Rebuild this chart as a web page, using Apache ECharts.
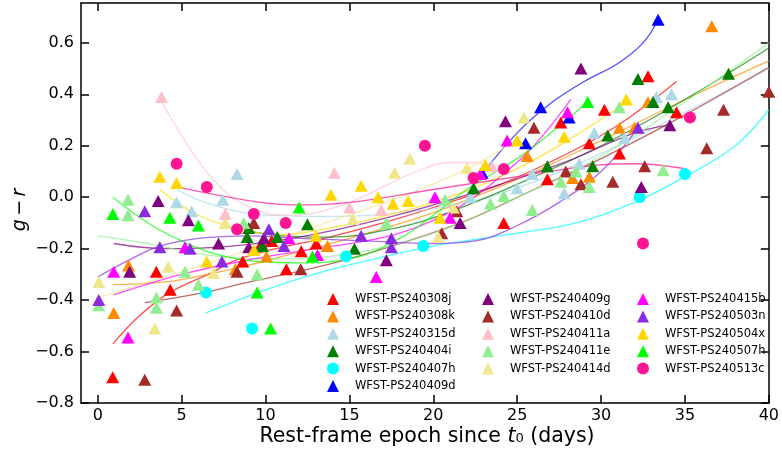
<!DOCTYPE html>
<html><head><meta charset="utf-8">
<script src="https://cdn.jsdelivr.net/npm/echarts@6/dist/echarts.min.js"></script>
<style>html,body{margin:0;padding:0;background:#fff}#c{width:782px;height:456px}</style>
</head><body><div id="c"></div>
<script>
// ---------- data ----------
const xTicks = [0, 5, 10, 15, 20, 25, 30, 35, 40];
const yTicks = [-0.8, -0.6, -0.4, -0.2, 0.0, 0.2, 0.4, 0.6];

const names = ['WFST-PS240308j','WFST-PS240308k','WFST-PS240315d','WFST-PS240404i','WFST-PS240407h','WFST-PS240409d',
  'WFST-PS240409g','WFST-PS240410d','WFST-PS240411a','WFST-PS240411e','WFST-PS240414d',
  'WFST-PS240415b','WFST-PS240503n','WFST-PS240504x','WFST-PS240507h','WFST-PS240513c'];

const pts_240308j = [[0.89,-0.70],[3.49,-0.29],[4.32,-0.36],[8.64,-0.25],[9.76,-0.18],[10.36,-0.17],[11.24,-0.28],[12.13,-0.21],[13.02,-0.18],[24.2,-0.10],[26.8,0.07],[27.6,0.29],[29.3,0.21],[30.2,0.34],[31.1,0.17],[32.8,0.47],[34.5,0.33]];
const fit_240308j = [[0.9,-0.57],[2.5,-0.46],[4.3,-0.37],[6.9,-0.29],[8,-0.25],[10,-0.21],[13.8,-0.155],[17,-0.10],[20,-0.04],[24,0.05],[28,0.17],[31,0.28],[34.5,0.45]];

const pts_240308k = [[0.95,-0.45],[1.83,-0.265],[8.2,-0.28],[10.06,-0.23],[13.7,-0.19],[25.6,0.16],[28.3,0.075],[29.3,0.08],[31.1,0.27],[32.0,0.27],[32.8,0.37],[36.6,0.665]];
const fit_240308k = [[0.9,-0.34],[3,-0.335],[5,-0.32],[8,-0.28],[11,-0.23],[15,-0.16],[20,-0.06],[25,0.07],[30,0.22],[35,0.38],[40,0.53]];

const pts_240315d = [[4.7,-0.02],[5.6,-0.055],[7.45,-0.01],[8.3,0.09],[22.2,0.0],[25.0,0.035],[25.9,0.09],[27.8,0.015],[28.7,0.13],[29.6,0.25],[31.4,0.23],[33.3,0.39],[34.2,0.40]];
const fit_240315d = [[4.7,0.03],[6,-0.01],[8,-0.05],[10,-0.07],[14,-0.075],[18,-0.06],[22,-0.02],[26,0.06],[30,0.17],[35,0.33],[40,0.50]];

const pts_240404i = [[9.0,-0.12],[8.9,-0.155],[9.8,-0.19],[10.7,-0.155],[12.5,-0.105],[15.3,-0.20],[22.4,0.035],[26.8,0.12],[29.5,0.12],[30.4,0.24],[32.2,0.46],[33.1,0.37],[34.0,0.35],[37.6,0.48]];
const fit_240404i = [[8.9,-0.13],[11,-0.15],[14,-0.155],[17,-0.13],[20,-0.08],[25,0.05],[30,0.2],[35,0.38],[40,0.58]];

const pts_240407h = [[6.45,-0.37],[9.2,-0.51],[14.8,-0.23],[19.4,-0.19],[32.3,0.0],[35.0,0.09]];
const fit_240407h = [[6.45,-0.45],[10,-0.36],[14,-0.28],[20,-0.19],[25,-0.14],[28.5,-0.10],[32,-0.02],[35,0.08],[38,0.2],[40,0.34]];

const pts_240409d = [[22.9,0.095],[25.5,0.21],[26.4,0.35],[28.1,0.31],[33.4,0.69]];
const fit_240409d = [[22.9,0.09],[25,0.25],[27,0.365],[29,0.45],[31,0.52],[32.5,0.6],[33.4,0.69]];

const pts_240409g = [[1.9,-0.29],[3.6,-0.015],[5.4,-0.09],[7.2,-0.18],[9.0,-0.195],[9.9,-0.16],[17.2,-0.245],[21.6,-0.10],[24.3,0.295],[28.8,0.50],[32.4,0.04],[34.1,0.28]];
const fit_240409g = [[0.95,-0.18],[4,-0.2],[8,-0.19],[12,-0.155],[16,-0.1],[20,-0.03],[24,0.05],[28,0.14],[32,0.25],[34.1,0.28]];

const pts_240410d = [[2.8,-0.71],[4.7,-0.44],[8.3,-0.29],[9.3,-0.10],[12.1,-0.28],[20.5,-0.14],[21.4,-0.055],[26.0,0.27],[27.9,0.10],[28.8,0.05],[30.7,0.06],[32.6,0.12],[36.3,0.19],[37.3,0.34],[40.0,0.41]];
const fit_240410d = [[2.8,-0.41],[6,-0.375],[9,-0.33],[13.8,-0.26],[18,-0.18],[22,-0.09],[26,0.03],[30,0.15],[35,0.32],[40,0.505]];

const pts_240411a = [[3.8,0.39],[7.6,-0.065],[14.1,0.095],[15.0,-0.04],[16.9,-0.05],[23.5,0.12]];
const fit_240411a = [[3.8,0.37],[5,0.24],[6,0.14],[7,0.06],[8,0.0],[9.5,-0.05],[11,-0.07],[13,-0.06],[15,-0.02],[17,0.04],[19,0.1],[21,0.135],[22.5,0.135],[23.5,0.12]];

const pts_240411e = [[0.06,-0.42],[1.8,-0.01],[1.8,-0.07],[3.5,-0.39],[3.5,-0.43],[5.2,-0.29],[6.0,-0.34],[8.7,-0.10],[9.5,-0.30],[17.2,-0.10],[20.7,-0.01],[23.4,-0.025],[24.2,0.005],[25.9,-0.05],[27.6,0.06],[28.5,0.10],[29.3,0.04],[31.1,0.35],[33.7,0.105]];
const fit_240411e = [[0,-0.15],[3,-0.18],[6,-0.22],[10,-0.24],[15,-0.22],[20,-0.14],[25,0.0],[30,0.16],[35,0.37],[40,0.6]];

const pts_240414d = [[0.06,-0.33],[3.4,-0.51],[4.2,-0.27],[6.9,-0.295],[7.6,-0.10],[15.2,-0.085],[17.7,0.095],[18.6,0.15],[20.3,-0.155],[21.2,-0.04],[22.0,0.115],[25.4,0.31]];
const fit_240414d = [[0,-0.39],[3,-0.33],[6,-0.27],[10,-0.18],[14,-0.09],[18,0.0],[22,0.11],[25.4,0.24]];

const pts_240415b = [[0.95,-0.29],[1.8,-0.545],[5.2,-0.195],[11.4,-0.16],[13.1,-0.225],[16.6,-0.31],[20.1,0.0],[21.0,-0.08],[22.8,0.09],[24.4,0.22],[28.0,0.33]];
const fit_240415b = [[0.95,-0.38],[5,-0.30],[9.3,-0.24],[13,-0.2],[16,-0.17],[18,-0.14],[20,-0.09],[22,-0.02],[24,0.08],[26,0.2],[28.2,0.38]];

const pts_240503n = [[0.06,-0.40],[2.8,-0.055],[3.7,-0.195],[5.5,-0.20],[7.4,-0.25],[10.2,-0.125],[11.1,-0.19],[15.7,-0.15],[17.5,-0.16],[17.5,-0.195],[32.2,0.27]];
const fit_240503n = [[0,-0.31],[2,-0.24],[3.7,-0.19],[6,-0.16],[9,-0.15],[12,-0.16],[16,-0.17],[20,-0.18],[22.5,-0.17],[25,-0.11],[27.5,-0.02],[30,0.1],[32.2,0.27]];

const pts_240504x = [[3.7,0.08],[4.7,0.055],[6.5,-0.25],[9.3,-0.205],[13.0,-0.15],[13.9,0.01],[15.7,0.045],[16.7,0.0],[17.6,-0.025],[18.5,-0.015],[20.4,-0.08],[23.1,0.125],[25.0,0.22],[27.8,0.235],[31.5,0.38]];
const fit_240504x = [[3.7,0.03],[6,-0.07],[9,-0.13],[11,-0.145],[13,-0.13],[16,-0.09],[20,-0.02],[24,0.08],[28,0.22],[31.5,0.37]];

const pts_240507h = [[0.9,-0.065],[4.3,-0.08],[6.0,-0.11],[9.5,-0.37],[10.3,-0.51],[12.0,-0.04],[12.8,-0.23],[29.2,0.37]];
const fit_240507h = [[0.9,0.0],[3,-0.1],[5,-0.17],[7,-0.22],[9.5,-0.25],[12,-0.255],[15,-0.24],[18,-0.16],[20,-0.07],[22,0.03],[25,0.15],[27,0.25],[29.2,0.37]];

const pts_240513c = [[4.7,0.13],[6.5,0.04],[8.3,-0.125],[9.3,-0.065],[11.2,-0.10],[19.5,0.20],[22.4,0.075],[24.2,0.11],[32.5,-0.18],[35.3,0.31]];
const fit_240513c = [[4.7,0.04],[7,0.01],[9.7,-0.02],[12,-0.03],[15,-0.02],[20,0.03],[25,0.08],[29.8,0.125],[32,0.13],[35.1,0.11]];

// ---------- styles ----------
const colors = ['#ff0000','#ff8c00','#add8e6','#007f00','#00ffff','#0000ff','#800080','#a52a2a',
  '#ffc0cb','#90ee90','#f0e68c','#ff00ff','#8a2be2','#ffd700','#00ff00','#ff1493'];
const symbols = names.map(n => (n === 'WFST-PS240407h' || n === 'WFST-PS240513c') ? 'circle' : 'triangle');
const ptsList = [pts_240308j,pts_240308k,pts_240315d,pts_240404i,pts_240407h,pts_240409d,pts_240409g,pts_240410d,
  pts_240411a,pts_240411e,pts_240414d,pts_240415b,pts_240503n,pts_240504x,pts_240507h,pts_240513c];
const fitList = [fit_240308j,fit_240308k,fit_240315d,fit_240404i,fit_240407h,fit_240409d,fit_240409g,fit_240410d,
  fit_240411a,fit_240411e,fit_240414d,fit_240415b,fit_240503n,fit_240504x,fit_240507h,fit_240513c];

const FONT = 'DejaVu Sans';
const series = [];
names.forEach((n, i) => {
  series.push({
    name: n + ' fit', type: 'line', data: fitList[i], smooth: 0.4, showSymbol: false, symbol: 'none',
    lineStyle: { color: colors[i], width: 1.3, opacity: 0.7 }, z: 2, silent: true, animation: false
  });
});
names.forEach((n, i) => {
  series.push({
    name: n, type: 'scatter', data: ptsList[i], symbol: symbols[i],
    symbolSize: symbols[i] === 'circle' ? 12 : [13, 12],
    itemStyle: { color: colors[i], opacity: 1 }, z: 3, animation: false
  });
});

function legendCol(items, left) {
  return {
    show: true, orient: 'vertical', left: left, top: 293, itemWidth: 12, itemHeight: 12, itemGap: 5.4,
    padding: 0, selectedMode: false,
    textStyle: { fontFamily: FONT, fontSize: 11.5, color: '#000', lineHeight: 12, padding: [0, 0, 0, 11] },
    data: items.map(k => ({ name: names[k], icon: symbols[k] }))
  };
}

const fmtY = v => (Math.abs(v) < 1e-9 ? '0.0' : v.toFixed(1)).replace('-', '\u2212');
const lineCommon = { show: true, onZero: false, lineStyle: { color: '#000', width: 1.5 } };
const tickCommon = { show: true, inside: true, length: 8, lineStyle: { color: '#000', width: 1.5 } };

const option = {
  backgroundColor: '#fff',
  animation: false,
  grid: { left: 81, right: 9, top: 3, bottom: 53, show: false },
  xAxis: [{
    type: 'value', min: -1, max: 40, position: 'bottom',
    axisLine: lineCommon,
    axisTick: Object.assign({ customValues: xTicks }, tickCommon),
    axisLabel: { show: true, customValues: xTicks, margin: 5, fontFamily: FONT, fontSize: 16, color: '#000' },
    splitLine: { show: false }
  }, {
    type: 'value', min: -1, max: 40, position: 'top',
    axisLine: lineCommon,
    axisTick: Object.assign({ customValues: xTicks }, tickCommon),
    axisLabel: { show: false }, splitLine: { show: false }
  }],
  yAxis: [{
    type: 'value', min: -0.8, max: 0.755, position: 'left',
    axisLine: lineCommon,
    axisTick: Object.assign({ customValues: yTicks }, tickCommon),
    axisLabel: { show: true, customValues: yTicks, margin: 7, fontFamily: FONT, fontSize: 16, color: '#000', formatter: fmtY },
    splitLine: { show: false }
  }, {
    type: 'value', min: -0.8, max: 0.755, position: 'right',
    axisLine: lineCommon,
    axisTick: Object.assign({ customValues: yTicks }, tickCommon),
    axisLabel: { show: false }, splitLine: { show: false }
  }],
  legend: [
    legendCol([0,1,2,3,4,5], 327),
    legendCol([6,7,8,9,10], 482),
    legendCol([11,12,13,14,15], 637)
  ],
  graphic: [
    { type: 'text', x: 427, y: 437, style: {
        text: '{a|Rest-frame epoch since }{i|t}{a|\u2080 (days)}',
        align: 'center', verticalAlign: 'middle',
        rich: { a: { fontFamily: FONT, fontSize: 20.5, fill: '#000' }, i: { fontFamily: FONT, fontStyle: 'italic', fontSize: 20.5, fill: '#000' } }
      } },
    { type: 'text', x: 20, y: 210, rotation: Math.PI / 2, style: {
        text: '{i|g} {a|\u2212} {i|r}',
        align: 'center', verticalAlign: 'middle',
        rich: { a: { fontFamily: FONT, fontSize: 19, fill: '#000' }, i: { fontFamily: FONT, fontStyle: 'italic', fontSize: 19, fill: '#000' } }
      } }
  ],
  series: series
};
const chart = echarts.init(document.getElementById('c'), null, { renderer: 'canvas' });
chart.setOption(option);
</script></body></html>
